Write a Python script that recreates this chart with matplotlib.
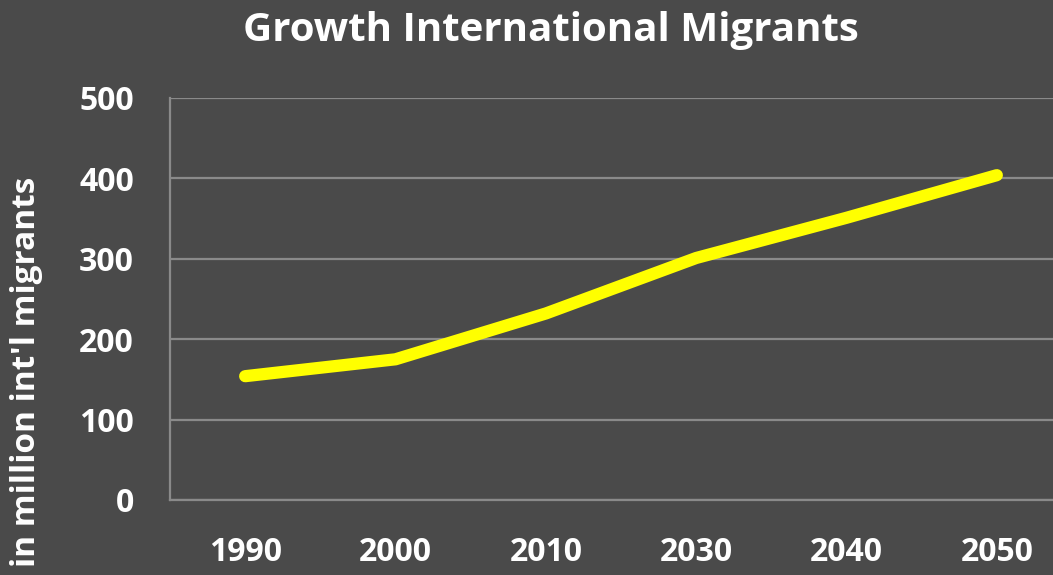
import matplotlib
matplotlib.use("Agg")
import matplotlib.pyplot as plt

years = ["1990", "2000", "2010", "2030", "2040", "2050"]
migrants = [154, 175, 232, 301, 351, 404]
yticks = [0, 100, 200, 300, 400, 500]

BG = "#4a4a4a"
W, H = 1053, 575
fig = plt.figure(figsize=(W / 100, H / 100), dpi=100, facecolor=BG)
ax = fig.add_axes([170 / W, (H - 500) / H, 902 / W, 402 / H], facecolor=BG)

x = list(range(len(years)))
ax.plot(x, migrants, color="#ffff00", linewidth=8.8, solid_capstyle="round",
        solid_joinstyle="round", zorder=3)

ax.set_xlim(-0.5, len(years) - 0.5)
ax.set_ylim(0, 500)
ax.set_yticks(yticks)
ax.set_xticks(x)
ax.set_xticklabels(years)
ax.grid(axis="y", color="#8a8a8a", linewidth=1.6)
ax.set_axisbelow(True)
for s in ["top", "right"]:
    ax.spines[s].set_visible(False)
for s in ["left", "bottom"]:
    ax.spines[s].set_color("#8a8a8a")
    ax.spines[s].set_linewidth(1.6)
ax.tick_params(axis="both", length=0, colors="white", labelsize=23)
ax.tick_params(axis="y", pad=26)
ax.tick_params(axis="x", pad=26)
for lab in ax.get_xticklabels() + ax.get_yticklabels():
    lab.set_fontweight("bold")
    lab.set_family("Open Sans")
    lab.set_color("white")

fig.text(551 / W, 1 - 30 / H, "Growth International Migrants", ha="center", va="center",
         color="white", fontsize=29, fontweight="bold", family="Open Sans")
fig.text(27 / W, 1 - 372 / H, "in million int'l migrants", ha="center", va="center",
         rotation=90, color="white", fontsize=24, fontweight="bold", family="Open Sans")

fig.savefig("out.png", dpi=100, facecolor=BG)
